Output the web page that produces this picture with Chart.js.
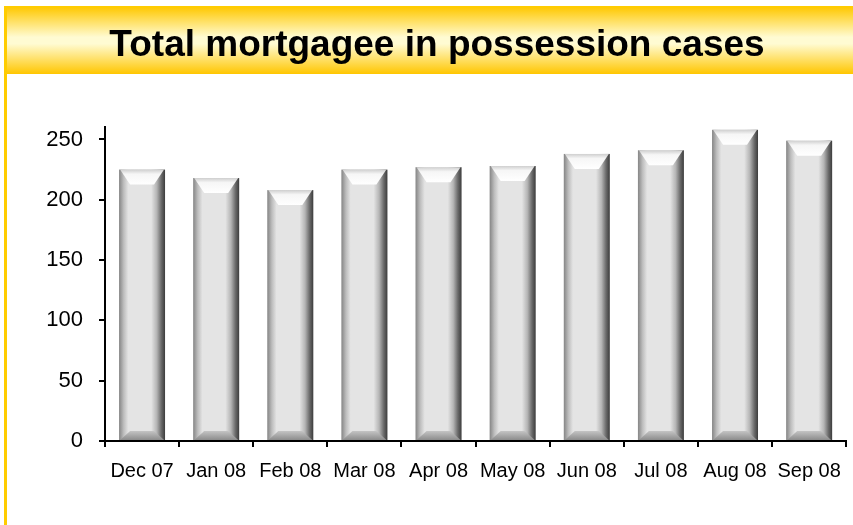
<!DOCTYPE html>
<html>
<head>
<meta charset="utf-8">
<script src="https://cdn.jsdelivr.net/npm/chart.js@4"></script>
<style>
  html, body { margin: 0; padding: 0; background: #fff; }
  canvas { display: block; }
</style>
</head>
<body>
<canvas id="chart" width="853" height="525"></canvas>
<script>
// values
const months = ['Dec 07', 'Jan 08', 'Feb 08', 'Mar 08', 'Apr 08', 'May 08', 'Jun 08', 'Jul 08', 'Aug 08', 'Sep 08'];
const cases = [225, 218, 208, 225, 227, 228, 238, 241, 258, 249];
const yTicks = [0, 50, 100, 150, 200, 250];
const titleText = 'Total mortgagee in possession cases';

// yellow frame + gradient title band
const frame = {
  id: 'frame',
  beforeDraw(chart) {
    const c = chart.ctx, w = chart.width, h = chart.height;
    c.save();
    c.fillStyle = '#fff';
    c.fillRect(0, 0, w, h);
    const g = c.createLinearGradient(0, 7, 0, 74);
    g.addColorStop(0, '#ffc800');
    g.addColorStop(0.45, '#fffbd2');
    g.addColorStop(0.55, '#fffbd2');
    g.addColorStop(1, '#ffc600');
    c.fillStyle = g;
    c.fillRect(6, 7, w - 6, 67);
    c.fillStyle = '#ffcc00';
    c.fillRect(4, 6, 3, h - 6);
    c.fillRect(4, 6, w - 4, 2);
    c.restore();
  }
};

// bevelled 3D look painted over each bar
const bevel = {
  id: 'bevel',
  afterDatasetsDraw(chart) {
    const c = chart.ctx;
    chart.getDatasetMeta(0).data.forEach(bar => {
      const p = bar.getProps(['x', 'y', 'base', 'width'], true);
      const x0 = p.x - p.width / 2, x1 = p.x + p.width / 2;
      const top = p.y, base = p.base, w = p.width;
      c.save();
      const hg = c.createLinearGradient(x0, 0, x1, 0);
      hg.addColorStop(0, '#858585');
      hg.addColorStop(0.1, '#bdbdbd');
      hg.addColorStop(0.2, '#e4e4e4');
      hg.addColorStop(0.7, '#e4e4e4');
      hg.addColorStop(0.82, '#b5b5b5');
      hg.addColorStop(0.92, '#6a6a6a');
      hg.addColorStop(1, '#3c3c3c');
      c.fillStyle = hg;
      c.fillRect(x0, top, w, base - top);

      // top face
      const tb = 15, sb = 11;
      const tg = c.createLinearGradient(0, top, 0, top + tb);
      tg.addColorStop(0, '#cfcfcf');
      tg.addColorStop(0.3, '#f6f6f6');
      tg.addColorStop(1, '#ffffff');
      c.fillStyle = tg;
      c.beginPath();
      c.moveTo(x0 + 1, top);
      c.lineTo(x1 - 1, top);
      c.lineTo(x1 - sb, top + tb);
      c.lineTo(x0 + sb, top + tb);
      c.closePath();
      c.fill();

      // bottom face
      const bb = 9;
      const bg = c.createLinearGradient(0, base - bb, 0, base);
      bg.addColorStop(0, '#c4c4c4');
      bg.addColorStop(1, '#8c8c8c');
      c.fillStyle = bg;
      c.beginPath();
      c.moveTo(x0 + sb, base - bb);
      c.lineTo(x1 - sb, base - bb);
      c.lineTo(x1 - 1, base);
      c.lineTo(x0 + 1, base);
      c.closePath();
      c.fill();
      c.restore();
    });
  }
};

new Chart(document.getElementById('chart'), {
  type: 'bar',
  data: {
    labels: months,
    datasets: [{
      data: cases,
      backgroundColor: '#e4e4e4',
      borderWidth: 0,
      categoryPercentage: 1,
      barPercentage: 0.62
    }]
  },
  options: {
    responsive: false,
    animation: false,
    layout: { padding: { left: 24, right: 3, top: 0, bottom: 0 } },
    plugins: {
      legend: { display: false },
      tooltip: { enabled: false },
      title: {
        display: true,
        text: titleText,
        color: '#000',
        font: { family: 'Liberation Sans, Arial, sans-serif', size: 37, weight: 'bold' },
        padding: { top: 24, bottom: 59 }
      }
    },
    scales: {
      x: {
        border: { display: true, color: '#000', width: 2 },
        grid: { display: true, offset: true, drawOnChartArea: false, drawTicks: true, tickLength: 6, color: '#000', lineWidth: 2 },
        ticks: {
          color: '#000',
          padding: 12,
          maxRotation: 0,
          autoSkip: false,
          font: { family: 'Liberation Sans, Arial, sans-serif', size: 20 }
        },
        afterFit(scale) { scale.height = 84; }
      },
      y: {
        min: 0,
        max: 260,
        border: { display: true, color: '#000', width: 2 },
        grid: { display: true, drawOnChartArea: false, drawTicks: true, tickLength: 6, color: '#000', lineWidth: 2 },
        ticks: {
          stepSize: 50,
          color: '#000',
          padding: 16,
          font: { family: 'Liberation Sans, Arial, sans-serif', size: 22 }
        },
        afterBuildTicks(scale) {
          scale.ticks = yTicks.map(v => ({ value: v }));
        },
        afterFit(scale) { scale.width = 81; }
      }
    }
  },
  plugins: [frame, bevel]
});
</script>
</body>
</html>
